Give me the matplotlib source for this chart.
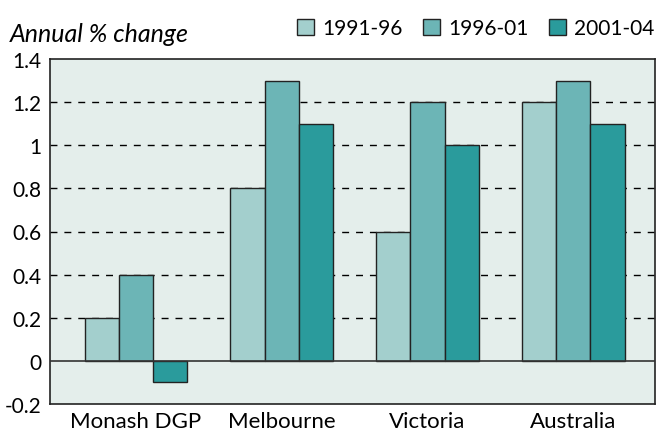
import numpy as np
import matplotlib.pyplot as plt

regions = ["Monash DGP", "Melbourne", "Victoria", "Australia"]
periods = ["1991-96", "1996-01", "2001-04"]
p1991 = [0.2, 0.8, 0.6, 1.2]
p1996 = [0.4, 1.3, 1.2, 1.3]
p2001 = [-0.1, 1.1, 1.0, 1.1]
colors = ["#a3cfcd", "#6cb5b6", "#2a9b9c"]

plt.rcParams['font.family'] = ['Lato', 'DejaVu Sans']

fig = plt.figure(figsize=(6.64, 4.39), dpi=100)
ax = fig.add_axes([50/664, 1 - 405/439, 605/664, 345/439])
ax.set_facecolor("#e4eeeb")

x = np.arange(len(regions))
w = 0.235
for i, vals in enumerate([p1991, p1996, p2001]):
    ax.bar(x + (i - 1) * w, vals, w, color=colors[i], edgecolor="#222222",
           linewidth=1, label=periods[i], zorder=3)

ax.set_xlim(-0.59, 3.56)
ax.set_ylim(-0.2, 1.4)
yt = np.arange(-0.2, 1.41, 0.2)
ax.set_yticks(yt)
ax.set_yticklabels(["-0.2", "0", "0.2", "0.4", "0.6", "0.8", "1", "1.2", "1.4"], fontsize=15)
for v in yt[2:-1]:
    ax.axhline(v, color="black", linestyle=(0, (5, 5)), linewidth=1, zorder=1)
ax.axhline(0, color="#333333", linewidth=1.2, zorder=4)
ax.tick_params(axis="y", length=0, pad=6)
ax.tick_params(axis="x", length=0, pad=5)
ax.set_xticks(x)
ax.set_xticklabels(regions, fontsize=16)
for s in ax.spines.values():
    s.set_color("#222222")
    s.set_linewidth(1.2)

fig.text(10/664, 1 - 35/439, "Annual % change", fontsize=18, style="italic", va="center")
fig.legend(loc="upper right", bbox_to_anchor=(1.005, 0.985), ncol=3, frameon=False,
           fontsize=15, handlelength=0.8, handleheight=0.8, handletextpad=0.4,
           columnspacing=1.0, borderaxespad=0.2)

fig.savefig("out.png", dpi=100)
